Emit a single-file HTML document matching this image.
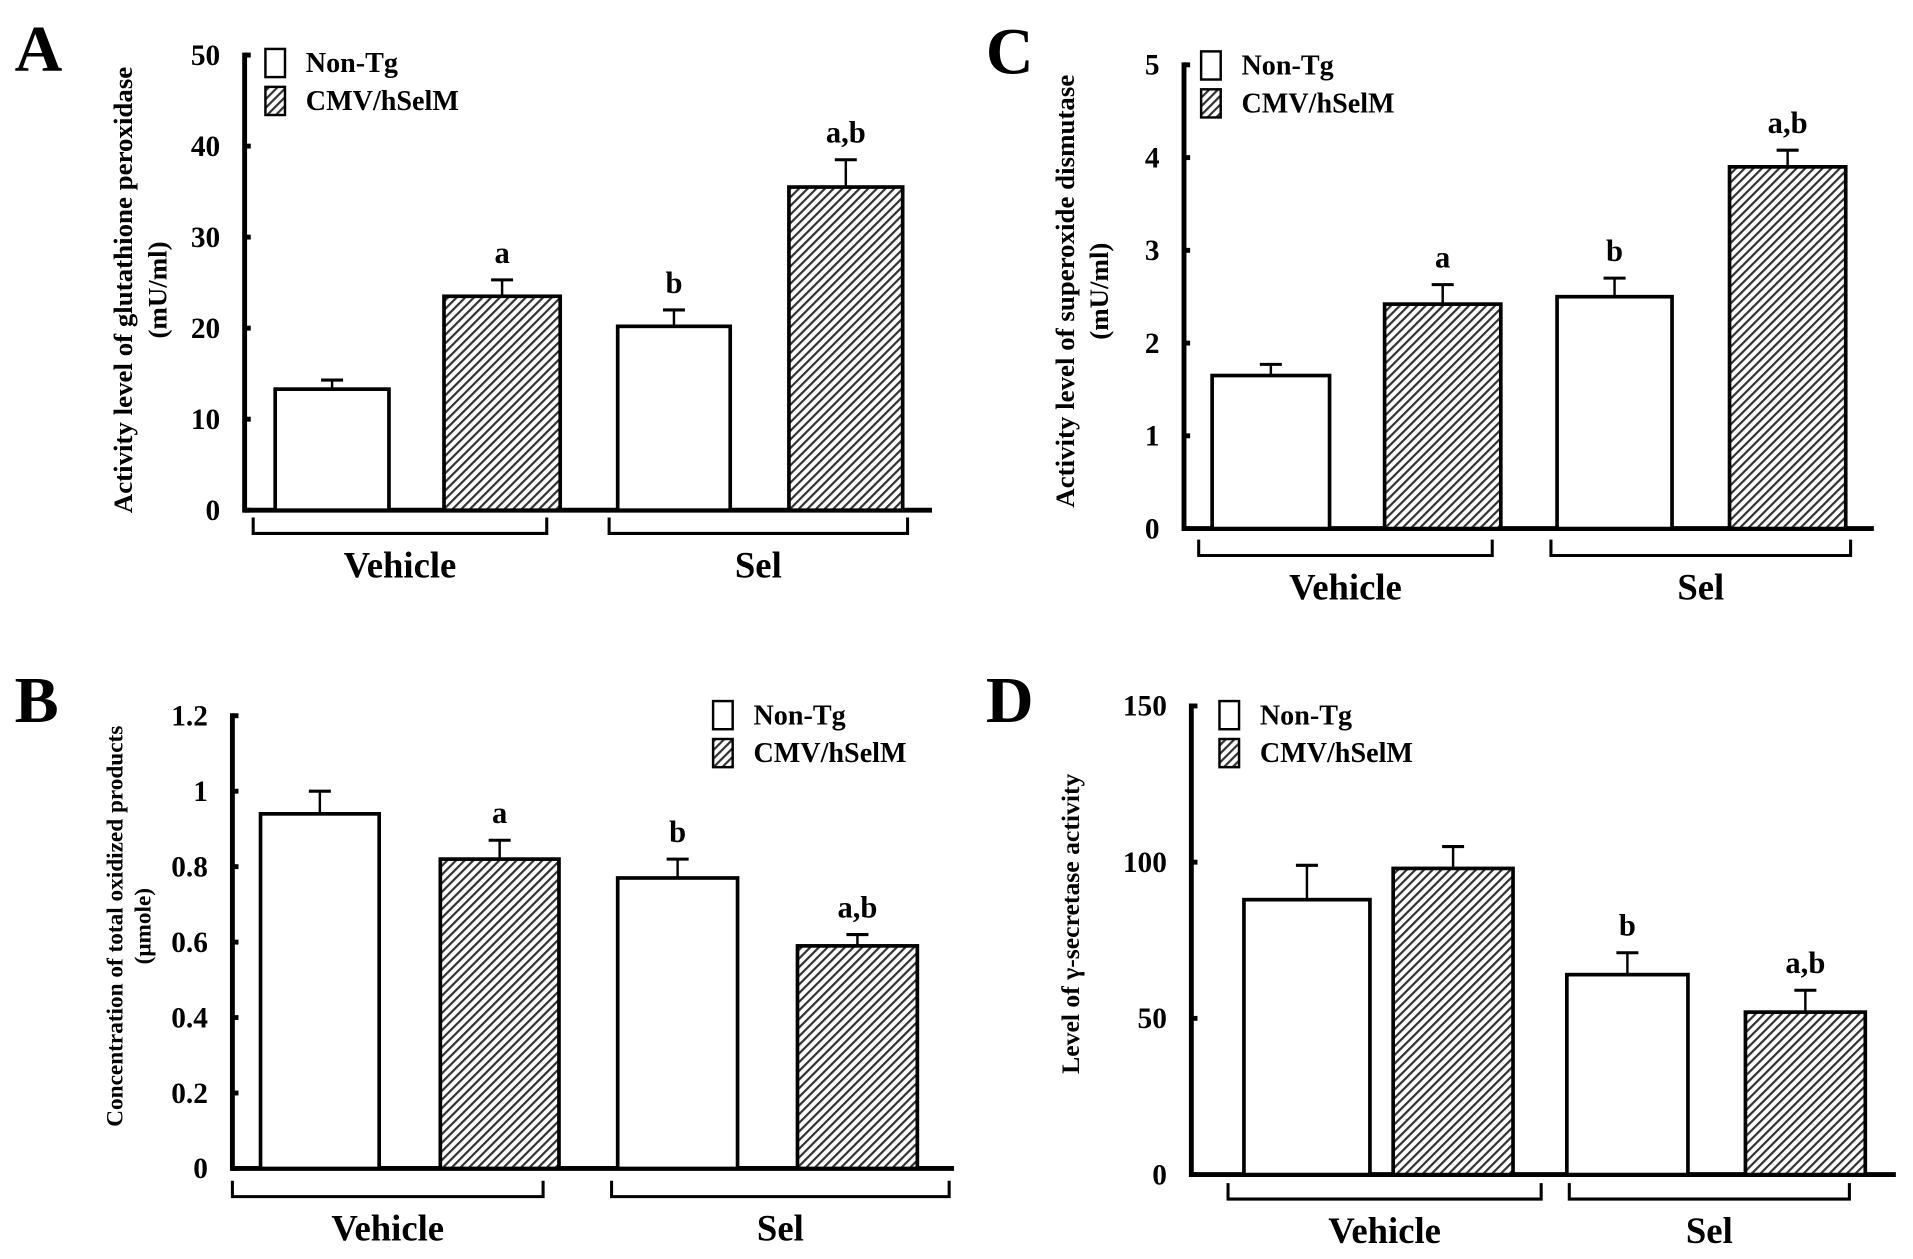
<!DOCTYPE html>
<html><head><meta charset="utf-8"><style>
html,body{margin:0;padding:0;background:#fff;}
svg{display:block;font-family:"Liberation Serif",serif;font-weight:bold;}
</style></head><body>
<svg id="fig" width="1913" height="1259" viewBox="0 0 1564 1029" preserveAspectRatio="none" xmlns="http://www.w3.org/2000/svg">
<defs>
<pattern id="hatch" patternUnits="userSpaceOnUse" width="5" height="5" patternTransform="rotate(45)">
<rect width="5" height="5" fill="#fff"/><rect width="1.8" height="5" fill="#333"/>
</pattern>
</defs>
</svg>
<script>
const groups = ["Vehicle","Sel"];
const series = ["Non-Tg","CMV/hSelM"];
const valsA = [13.3, 23.5, 20.2, 35.5];
const errsA = [14.3, 25.3, 22.0, 38.5];
const annA = ["", "a", "b", "a,b"];
const ticksA = [0,10,20,30,40,50];
const valsB = [0.94, 0.82, 0.77, 0.59];
const errsB = [1.0, 0.87, 0.82, 0.62];
const annB = ["", "a", "b", "a,b"];
const ticksB = [0,0.2,0.4,0.6,0.8,1,1.2];
const valsC = [1.65, 2.42, 2.5, 3.9];
const errsC = [1.77, 2.63, 2.7, 4.08];
const annC = ["", "a", "b", "a,b"];
const ticksC = [0,1,2,3,4,5];
const valsD = [88, 98, 64, 52];
const errsD = [99, 105, 71, 59];
const annD = ["", "", "b", "a,b"];
const ticksD = [0,50,100,150];

const NS = "http://www.w3.org/2000/svg";
const svg = document.getElementById("fig");
function mk(tag, attrs, parent, text){
  const e = document.createElementNS(NS, tag);
  for (const k in attrs) e.setAttribute(k, attrs[k]);
  if (text !== undefined) e.textContent = text;
  (parent||svg).appendChild(e);
  return e;
}

const panels = [
 {id:"a", letter:"A", lx:12, ly:58, ax:200, x1:762, y0:417, yT:45, max:50, vals:valsA, errs:errsA, ann:annA, ticks:ticksA,
  bars:[[225,318],[363,458],[505,597],[645,738]], br:[[207,447],[498,742]], brY:436, glY:472,
  leg:[217,40], ylab:["Activity level of glutathione peroxidase","(mU/ml)"], ylx:[108,136], yly:237, ylfs:22},
 {id:"b", letter:"B", lx:12, ly:590, ax:190, x1:780, y0:955, yT:585, max:1.2, vals:valsB, errs:errsB, ann:annB, ticks:ticksB,
  bars:[[213,310],[360,457],[505,603],[652,750]], br:[[190,444],[500,776]], brY:978, glY:1014,
  leg:[583,573], ylab:["Concentration  of total oxidized products","(μmole)"], ylx:[100,123], yly:757, ylfs:19},
 {id:"c", letter:"C", lx:806, ly:60, ax:968, x1:1532, y0:432, yT:53, max:5, vals:valsC, errs:errsC, ann:annC, ticks:ticksC,
  bars:[[991,1087],[1132,1227],[1273,1367],[1414,1509]], br:[[980,1220],[1268,1513]], brY:454, glY:490,
  leg:[982,42], ylab:["Activity level of superoxide dismutase","(mU/ml)"], ylx:[878,906], yly:238, ylfs:22},
 {id:"d", letter:"D", lx:806, ly:590, ax:974, x1:1550, y0:960, yT:577, max:150, vals:valsD, errs:errsD, ann:annD, ticks:ticksD,
  bars:[[1017,1120],[1139,1237],[1281,1380],[1427,1525]], br:[[1004,1260],[1283,1512]], brY:980, glY:1016,
  leg:[997,573], ylab:["Level of γ-secretase activity"], ylx:[882], yly:755, ylfs:21}
];

panels.forEach(p=>{
  const g = mk("g",{});
  
  
  const Y = v => p.y0 - (v/p.max)*(p.y0-p.yT);
  const L = mk("text",{x:p.lx,y:p.ly,"font-size":54},g,p.letter);
  
  
  const ya = mk("line",{x1:p.ax,y1:p.yT-2,x2:p.ax,y2:p.y0+2,stroke:"#000","stroke-width":4},g);
  
  
  const xa = mk("line",{x1:p.ax,y1:p.y0,x2:p.x1,y2:p.y0,stroke:"#000","stroke-width":4},g);
  
  
  p.ticks.forEach(t=>{
    const y = Y(t);
    mk("line",{x1:p.ax,y1:y,x2:p.ax+5,y2:y,stroke:"#000","stroke-width":4},g);
    const tl = mk("text",{x:p.ax-20,y:y+8,"font-size":24,"text-anchor":"end"},g,String(t));
    
    
  });
  p.ylab.forEach((s,i)=>{
    const t = mk("text",{x:0,y:0,"font-size":p.ylfs,"text-anchor":"middle",transform:`translate(${p.ylx[i]},${p.yly}) rotate(-90)`},g,s);
    
    
  });
  p.vals.forEach((v,i)=>{
    const [bx0,bx1] = p.bars[i];
    const cx = (bx0+bx1)/2;
    const ye = Y(p.errs[i]);
    mk("line",{x1:cx,y1:Y(v),x2:cx,y2:ye,stroke:"#000","stroke-width":2},g);
    mk("line",{x1:cx-9,y1:ye,x2:cx+9,y2:ye,stroke:"#000","stroke-width":2.5},g);
    const r = mk("rect",{x:bx0,y:Y(v),width:bx1-bx0,height:p.y0-Y(v),fill:i%2?"url(#hatch)":"#fff",stroke:"#000","stroke-width":3},g);
    
    
    if (p.ann[i]) {
      const a = mk("text",{x:cx,y:ye-14,"font-size":25,"text-anchor":"middle"},g,p.ann[i]);
      
      
    }
  });
  p.br.forEach((b,i)=>{
    mk("path",{d:`M${b[0]},${p.brY-13} V${p.brY} H${b[1]} V${p.brY-13}`,fill:"none",stroke:"#000","stroke-width":2.5},g);
    const gl = mk("text",{x:(b[0]+b[1])/2,y:p.glY,"font-size":30,"text-anchor":"middle"},g,groups[i]);
    
    
  });
  series.forEach((s,i)=>{
    const ly = p.leg[1] + i*31;
    const box = mk("rect",{x:p.leg[0],y:ly,width:16,height:23,fill:i?"url(#hatch)":"#fff",stroke:"#000","stroke-width":2},g);
    
    
    const lt = mk("text",{x:p.leg[0]+33,y:ly+19,"font-size":23},g,s);
    
    
  });
});
</script>
</body></html>
